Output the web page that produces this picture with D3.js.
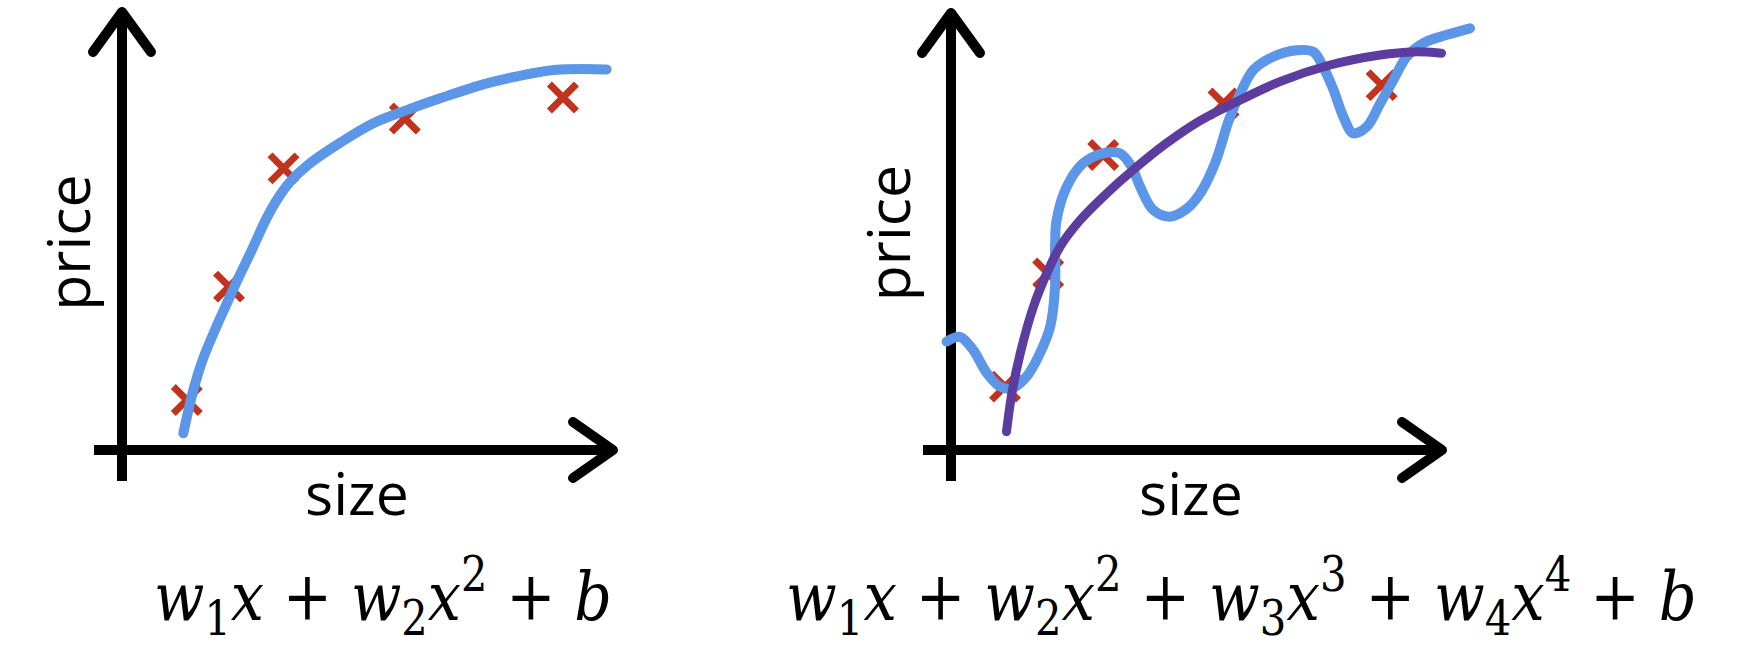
<!DOCTYPE html>
<html><head><meta charset="utf-8">
<script src="https://cdn.jsdelivr.net/npm/d3@7"></script>
<style>html,body{margin:0;padding:0;background:#fff;} svg{display:block;}</style>
</head><body>
<svg id="chart" width="1742" height="664"></svg>
<script>
// ---------- DATA (axis units: size 0..100, price 0..100) ----------
const xLabel = "size";
const yLabel = "price";

// training examples (red crosses) – left panel
const leftPointSize  = [13.2, 21.8, 32.9, 57.6, 89.8];
const leftPointPrice = [11.4, 37.3, 64.3, 75.7, 80.5];

// quadratic fit (blue) – left panel
const leftFitSize  = [12.5, 13.5, 14.8, 16.5, 18.7, 21.0, 23.6, 26.5, 29.3, 31.6, 34.2, 38.0, 44.5, 51.2, 58.0, 64.8, 74.3, 81.7, 88.5, 98.7];
const leftFitPrice = [3.8, 9.0, 14.8, 20.8, 26.8, 32.6, 39.0, 45.8, 52.6, 57.2, 61.2, 65.2, 70.2, 74.6, 77.6, 80.3, 83.7, 85.6, 86.8, 86.9];

// training examples (red crosses) – right panel
const rightPointSize  = [11.0, 19.8, 31.0, 55.5, 87.7];
const rightPointPrice = [14.5, 40.4, 67.5, 79.3, 83.5];

// wiggly high-order fit (blue) – right panel
const rightWiggleSize  = [-0.9, 1.8, 4.5, 7.3, 10.0, 12.4, 15.4, 18.1, 20.2, 21.2, 21.2, 21.5, 23.6, 26.9, 31.0, 34.4, 36.8, 38.5, 41.2, 44.6, 48.0, 50.9, 53.9, 56.6, 58.9, 61.6, 65.6, 70.4, 73.8, 75.8, 77.9, 79.9, 81.9, 84.7, 87.4, 90.1, 92.8, 96.2, 101.0, 105.7];
const rightWigglePrice = [24.8, 25.9, 22.9, 17.6, 14.5, 14.1, 16.8, 22.1, 28.2, 37.4, 46.5, 52.6, 60.3, 65.6, 67.9, 67.9, 64.8, 60.3, 54.9, 53.4, 55.2, 59.0, 66.0, 75.5, 81.6, 87.0, 90.0, 91.5, 91.1, 87.7, 82.4, 76.3, 72.5, 74.0, 79.3, 84.7, 90.0, 93.1, 95.0, 96.5];

// smooth fit (purple) – right panel
const rightSmoothSize  = [11.3, 12.4, 14.1, 16.8, 19.5, 22.2, 26.3, 31.7, 37.1, 43.9, 50.5, 56.8, 67.0, 77.2, 87.4, 94.2, 99.9];
const rightSmoothPrice = [4.2, 13.0, 22.1, 32.8, 40.4, 46.5, 52.6, 58.7, 64.1, 70.2, 75.2, 78.9, 84.3, 88.1, 90.4, 91.1, 90.8];

// formulas
const leftFormula  = [{v:"w",sub:"1"},{v:"x"},{op:"+"},{v:"w",sub:"2"},{v:"x",sup:"2"},{op:"+"},{v:"b"}];
const rightFormula = [{v:"w",sub:"1"},{v:"x"},{op:"+"},{v:"w",sub:"2"},{v:"x",sup:"2"},{op:"+"},{v:"w",sub:"3"},{v:"x",sup:"3"},{op:"+"},{v:"w",sub:"4"},{v:"x",sup:"4"},{op:"+"},{v:"b"}];

// ---------- STYLE / LAYOUT ----------
const BLUE = "#5b96e9", RED = "#c1331d", PURPLE = "#5d3c9f";
const svg = d3.select("#chart");

const panels = [
  {xr:[122,613], yr:[450,12], xLab:357, yLabX:90, yLabY:242.5, fx:[154,612], formula:leftFormula},
  {xr:[951,1442], yr:[450,13], xLab:1191, yLabX:910, yLabY:233, fx:[786,1697], formula:rightFormula}
];
panels.forEach(p => {
  p.x = d3.scaleLinear().domain([0,100]).range(p.xr);
  p.y = d3.scaleLinear().domain([0,100]).range(p.yr);
});

const zip = (a,b) => a.map((v,i)=>[v,b[i]]);

function drawAxes(p){
  const g = svg.append("g");
  const x0 = p.x(0), y0 = p.y(0), xt = p.x(100), yt = p.y(100);
  g.append("line").attr("x1", x0-28).attr("x2", xt).attr("y1", y0).attr("y2", y0)
    .attr("stroke","#000").attr("stroke-width",10);
  g.append("line").attr("x1", x0).attr("x2", x0).attr("y1", y0+31).attr("y2", yt)
    .attr("stroke","#000").attr("stroke-width",10);
  const ah = d3.line();
  g.append("path").attr("d", ah([[xt-40,y0-28],[xt,y0],[xt-40,y0+28]]))
    .attr("fill","none").attr("stroke","#000").attr("stroke-width",10)
    .attr("stroke-linecap","round").attr("stroke-linejoin","round");
  g.append("path").attr("d", ah([[x0-29,yt+40],[x0,yt],[x0+29,yt+40]]))
    .attr("fill","none").attr("stroke","#000").attr("stroke-width",10)
    .attr("stroke-linecap","round").attr("stroke-linejoin","round");
  g.append("text").attr("x", p.xLab).attr("y", 515).attr("text-anchor","middle")
    .attr("font-family","'Open Sans', sans-serif").attr("font-size",59).attr("fill","#000").text(xLabel);
  g.append("text").attr("transform",`translate(${p.yLabX},${p.yLabY}) rotate(-90)`).attr("text-anchor","middle")
    .attr("font-family","'Open Sans', sans-serif").attr("font-size",59).attr("fill","#000").text(yLabel);
}

function drawCrosses(p, xs, ys){
  const h = 13.5;
  svg.append("g").selectAll("path").data(zip(xs,ys)).join("path")
    .attr("d", d => {
      const cx = p.x(d[0]), cy = p.y(d[1]);
      return `M${cx-h},${cy-h}L${cx+h},${cy+h}M${cx-h},${cy+h}L${cx+h},${cy-h}`;
    })
    .attr("stroke", RED).attr("stroke-width", 7).attr("fill","none");
}

function drawCurve(p, xs, ys, color, w){
  const line = d3.line().x(d=>p.x(d[0])).y(d=>p.y(d[1])).curve(d3.curveCatmullRom.alpha(0.5));
  svg.append("path").datum(zip(xs,ys)).attr("d", line)
    .attr("fill","none").attr("stroke",color).attr("stroke-width",w)
    .attr("stroke-linecap","round").attr("stroke-linejoin","round");
}

function drawFormula(p){
  const F = 68, S = 48;
  const t = svg.append("text").attr("x", 0).attr("y", 620)
    .attr("font-family","'DejaVu Serif', serif").attr("font-size",F).attr("fill","#000")
    .style("white-space","pre");
  let off = 0;
  p.formula.forEach(tok => {
    if (tok.op){
      t.append("tspan").attr("dy", -off).attr("font-style","normal").text(" " + tok.op + " ");
      off = 0; return;
    }
    t.append("tspan").attr("dy", -off).attr("font-style","italic").text(tok.v);
    off = 0;
    if (tok.sub){
      t.append("tspan").attr("dy", 15).attr("font-size",S).attr("font-style","normal").text(tok.sub);
      off = 15;
    }
    if (tok.sup){
      t.append("tspan").attr("dy", -29).attr("font-size",S).attr("font-style","normal").text(tok.sup);
      off = -29;
    }
  });
  const bb = t.node().getBBox();
  const k = (p.fx[1]-p.fx[0]) / bb.width;
  t.attr("transform", `translate(${p.fx[0]},0) scale(${k},1) translate(${-bb.x},0)`);
}

drawAxes(panels[0]);
drawCrosses(panels[0], leftPointSize, leftPointPrice);
drawCurve(panels[0], leftFitSize, leftFitPrice, BLUE, 10);
drawFormula(panels[0]);

drawAxes(panels[1]);
drawCrosses(panels[1], rightPointSize, rightPointPrice);
drawCurve(panels[1], rightWiggleSize, rightWigglePrice, BLUE, 10);
drawCurve(panels[1], rightSmoothSize, rightSmoothPrice, PURPLE, 9);
drawFormula(panels[1]);
</script>
</body></html>
